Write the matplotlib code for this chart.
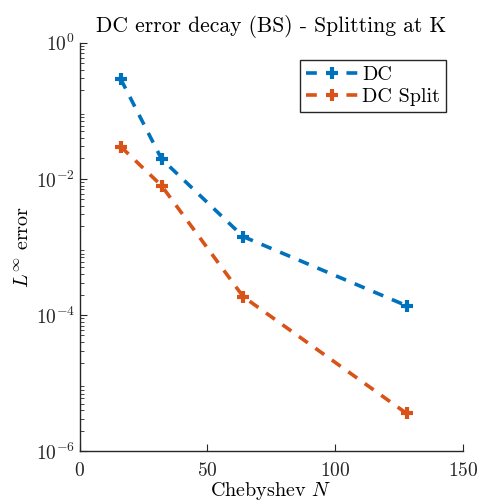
import numpy as np
import matplotlib.pyplot as plt

plt.rcParams['font.family'] = 'cmr10'
plt.rcParams['mathtext.fontset'] = 'cm'
plt.rcParams['axes.formatter.use_mathtext'] = True

N = [16, 32, 64, 128]
err_dc = [2.95e-1, 1.97e-2, 1.42e-3, 1.37e-4]
err_split = [2.99e-2, 7.97e-3, 1.86e-4, 3.58e-6]

blue = '#0072BD'
orange = '#D95319'

fig = plt.figure(figsize=(4.78, 5.04), dpi=100)
ax = fig.add_axes([0.167, 0.105, 0.801, 0.81])

ax.semilogy(N, err_dc, '--+', color=blue, lw=2.6, dashes=(3, 2.6),
            ms=8, mew=3, label='DC')
ax.semilogy(N, err_split, '--+', color=orange, lw=2.6, dashes=(3, 2.6),
            ms=8, mew=3, label='DC Split')

ax.set_xlim(0, 150)
ax.set_ylim(1e-6, 1e0)
ax.set_xticks([0, 50, 100, 150])
ax.set_yticks([1e0, 1e-2, 1e-4, 1e-6])
ax.set_yticklabels([r'$10^{0}$', r'$10^{-2}$', r'$10^{-4}$', r'$10^{-6}$'])

for s in ['top', 'right']:
    ax.spines[s].set_visible(False)
for s in ['left', 'bottom']:
    ax.spines[s].set_color('#262626')
    ax.spines[s].set_linewidth(1.0)
ax.tick_params(which='both', direction='in', colors='#262626', labelsize=14)
ax.tick_params(which='major', length=5)
ax.tick_params(which='minor', length=3)
ax.tick_params(axis='x', pad=8)

ax.set_title('DC error decay (BS) - Splitting at K', fontsize=15.5, pad=8)
ax.set_xlabel(r'Chebyshev $N$', fontsize=14.5, labelpad=0)
ax.set_ylabel(r'$L^{\infty}$ error', fontsize=14.5, labelpad=2)

leg = ax.legend(loc='upper right', bbox_to_anchor=(0.957, 0.958), fontsize=14.5,
                fancybox=False, framealpha=1, edgecolor='#262626',
                handlelength=2.6, handletextpad=0.2, borderpad=0.3,
                labelspacing=0.2, borderaxespad=0)
leg.get_frame().set_linewidth(1.0)

fig.savefig('out.png', dpi=100)
